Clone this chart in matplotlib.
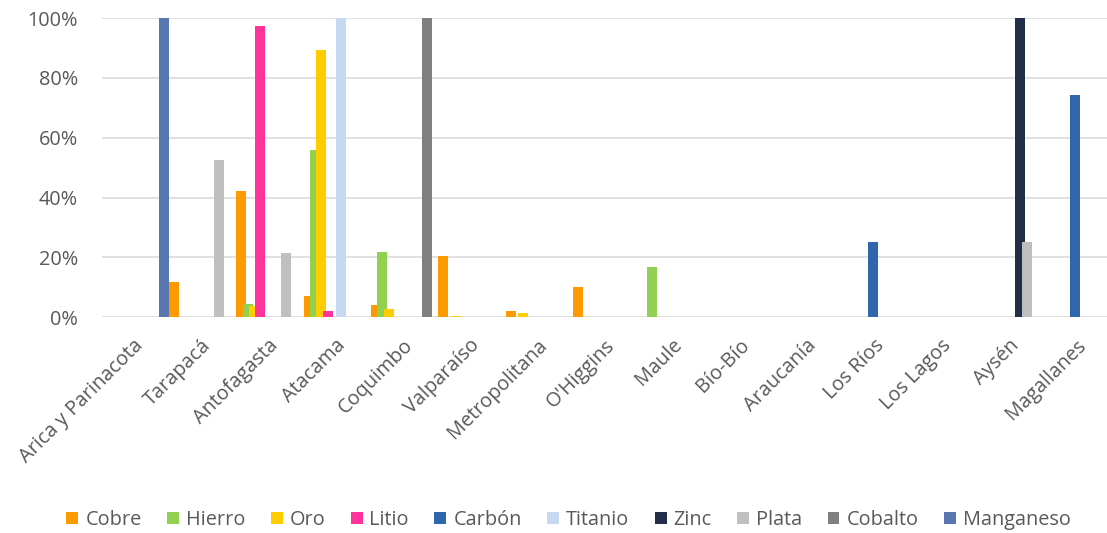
import numpy as np
import matplotlib
matplotlib.use("Agg")
import matplotlib.pyplot as plt
import matplotlib.transforms as mtransforms
from matplotlib.patches import Patch
from matplotlib.ticker import PercentFormatter

plt.rcParams['font.family'] = ['Open Sans', 'DejaVu Sans']

regiones = ["Arica y Parinacota", "Tarapacá", "Antofagasta", "Atacama", "Coquimbo",
            "Valparaíso", "Metropolitana", "O'Higgins", "Maule", "Bío-Bío",
            "Araucanía", "Los Ríos", "Los Lagos", "Aysén", "Magallanes"]

# participación regional por mineral (%)
cobre     = [0, 11.7, 42.2, 7.1, 4.0, 20.5, 2.1, 10.1, 0, 0, 0, 0, 0, 0, 0]
hierro    = [0, 0, 4.4, 55.8, 21.7, 0, 0, 0, 16.7, 0, 0, 0, 0, 0, 0]
oro       = [0.2, 0.2, 3.9, 89.2, 2.8, 0.3, 1.5, 0, 0, 0, 0, 0, 0, 0, 0]
litio     = [0, 0, 97.3, 2.2, 0, 0, 0, 0, 0, 0, 0, 0, 0, 0, 0]
carbon    = [0, 0, 0, 0, 0, 0, 0, 0, 0, 0, 0, 25.3, 0, 0, 74.4]
titanio   = [0, 0, 0, 100, 0, 0, 0, 0, 0, 0, 0, 0, 0, 0, 0]
zinc      = [0, 0, 0, 0, 0, 0, 0, 0, 0, 0, 0, 0, 0, 100, 0]
plata     = [0, 52.4, 21.6, 0, 0, 0, 0, 0, 0, 0, 0, 0, 0, 25.2, 0]
cobalto   = [0, 0, 0, 0, 100, 0, 0, 0, 0, 0, 0, 0, 0, 0, 0]
manganeso = [100, 0, 0, 0, 0, 0, 0, 0, 0, 0, 0, 0, 0, 0, 0]

series = [("Cobre", cobre, "#FF9900"),
          ("Hierro", hierro, "#92D050"),
          ("Oro", oro, "#FFCC00"),
          ("Litio", litio, "#FF3399"),
          ("Carbón", carbon, "#2F66AE"),
          ("Titanio", titanio, "#C6D9F0"),
          ("Zinc", zinc, "#222E47"),
          ("Plata", plata, "#BFBFBF"),
          ("Cobalto", cobalto, "#808080"),
          ("Manganeso", manganeso, "#5877B1")]

txt = "#595959"
fs = 14.3

fig = plt.figure(figsize=(11.07, 5.33), dpi=100)
ax = fig.add_axes([101.7 / 1107, 215.7 / 533, 1010 / 1107, 299.3 / 533])

x = np.arange(len(regiones))
w = 0.148
step = (1 - w) / (len(series) - 1)   # barras solapadas, sin espacio entre grupos
for i, (nombre, vals, col) in enumerate(series):
    ax.bar(x - 0.5 + i * step, np.array(vals) / 100, width=w, align="edge",
           color=col, linewidth=0, zorder=3)

ax.set_xlim(-0.5, len(regiones) - 0.5)
ax.set_ylim(0, 1)
ax.set_yticks(np.arange(0, 1.01, 0.2))
ax.yaxis.set_major_formatter(PercentFormatter(1.0, decimals=0))
ax.grid(axis="y", color="#D9D9D9", linewidth=1.1, zorder=0)
for s in ax.spines.values():
    s.set_visible(False)
ax.tick_params(axis="y", length=0, pad=17, labelsize=fs, labelcolor=txt)
ax.tick_params(axis="x", length=0, pad=18, labelsize=fs, labelcolor=txt)
ax.set_xticks(x)
ax.set_xticklabels(regiones, rotation=45, ha="right", va="center",
                   rotation_mode="anchor")
# correr un poco las etiquetas a la derecha
shift = mtransforms.ScaledTranslation(5 / 100, 0, fig.dpi_scale_trans)
for lbl in ax.get_xticklabels():
    lbl.set_transform(lbl.get_transform() + shift)

handles = [Patch(facecolor=c, edgecolor="none", label=n) for n, _, c in series]
fig.legend(handles=handles, loc="center", bbox_to_anchor=(568.5 / 1107, 13 / 533),
           ncol=10, frameon=False, fontsize=fs, labelcolor=txt,
           handlelength=0.6, handleheight=0.6, handletextpad=0.35,
           columnspacing=1.28, borderaxespad=0, borderpad=0)

fig.savefig("out.png", dpi=100)
